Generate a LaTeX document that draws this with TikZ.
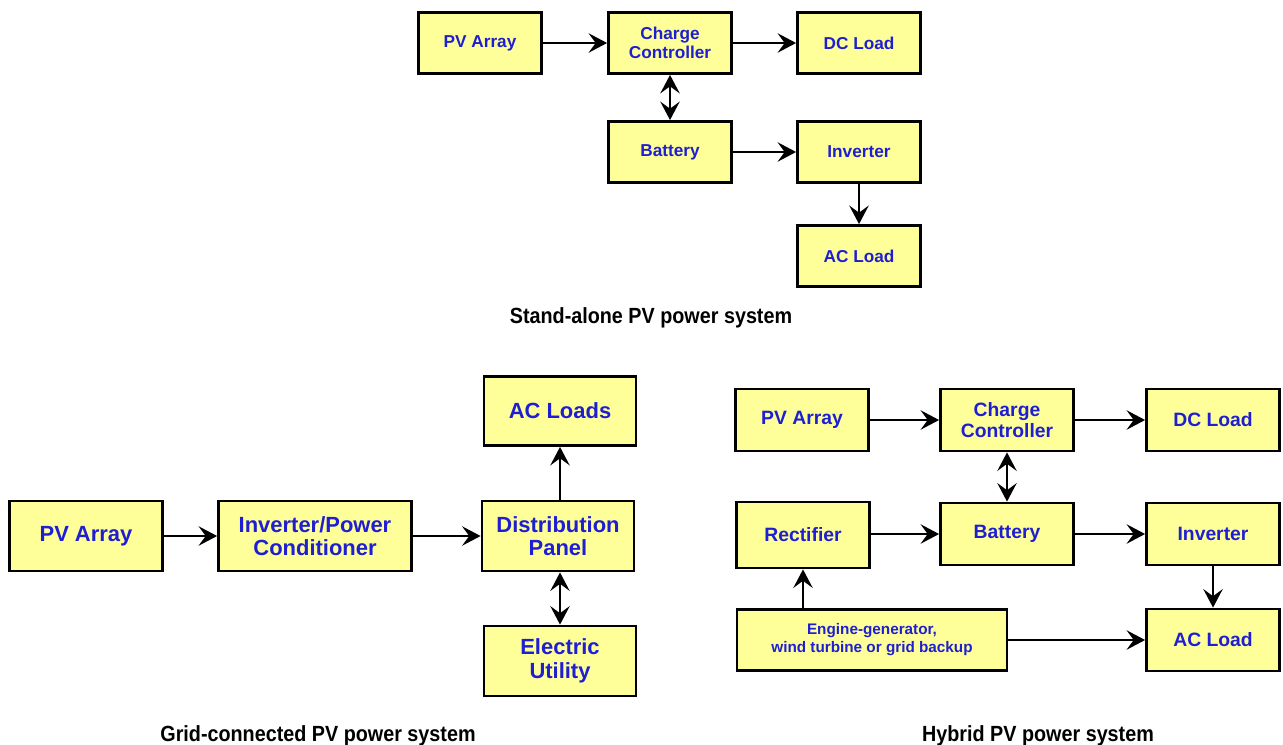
\documentclass[tikz,border=0pt]{standalone}
\usepackage{fontspec}
\setmainfont{Liberation Sans}
\newfontfamily\capfont[FakeStretch=0.9]{Liberation Sans}
\usetikzlibrary{arrows.meta,positioning}

\definecolor{boxfill}{RGB}{255,255,153}
\definecolor{boxtext}{RGB}{30,30,210}

\tikzset{
    >={Stealth[length=10.5pt, width=11pt, inset=4pt]},
    blk/.style={draw, line width=1.6pt, fill=boxfill, text=boxtext, align=center, inner sep=0pt},
    % stand-alone system
    sa/.style={blk, minimum width=2.46cm, minimum height=1.22cm, font=\bfseries\fontsize{9.8}{11}\selectfont},
    % grid-connected system
    gc/.style={blk, minimum width=3.04cm, minimum height=1.4cm, font=\bfseries\fontsize{12.5}{13.5}\selectfont},
    % hybrid system
    hy/.style={blk, minimum width=2.66cm, minimum height=1.24cm, font=\bfseries\fontsize{11}{11.5}\selectfont},
    flow/.style={->, line width=1.4pt},
    title/.style={anchor=base, font=\capfont\bfseries\fontsize{12.5}{13}\selectfont},
}

\begin{document}
\begin{tikzpicture}[x=0.02cm, y=-0.02cm]
    \useasboundingbox (0, 0) rectangle (1283, 744);

    % Stand-alone PV power system
    \node[sa] at (480, 43)(sapv){PV Array};
    \node[sa] at (670, 43)(sacc){Charge\\Controller};
    \node[sa] at (859, 43)(sadc){DC Load};
    \node[sa] at (670, 152)(sabat){Battery};
    \node[sa] at (859, 152)(sainv){Inverter};
    \node[sa] at (859, 256)(saac){AC Load};
    \node[title] at (651, 323)(satitle){Stand-alone PV power system};

    \path[flow]
        (sapv)edge(sacc)
        (sacc)edge(sadc)
        (sacc)edge[<->](sabat)
        (sabat)edge(sainv)
        (sainv)edge(saac)
        ;

    % Grid-connected PV power system
    \node[gc, minimum width=3.06cm] at (86, 536)(gcpv){PV Array};
    \node[gc, minimum width=3.86cm] at (315, 536)(gcinv){Inverter/Power\\Conditioner};
    \node[gc] at (558, 536)(gcdist){Distribution\\Panel};
    \node[gc, minimum height=1.38cm] at (560, 411)(gcac){AC Loads};
    \node[gc] at (560, 661)(gcutil){Electric\\Utility};
    \node[title] at (318, 741)(gctitle){Grid-connected PV power system};

    \path[flow]
        (gcpv)edge(gcinv)
        (gcinv)edge(gcdist)
        (gcdist.north -| gcac)edge(gcac)
        (gcdist.south -| gcutil)edge[<->](gcutil)
        ;

    % Hybrid PV power system
    \node[hy] at (802, 420)(hypv){PV Array};
    \node[hy] at (1007, 420)(hycc){Charge\\Controller};
    \node[hy] at (1213, 420)(hydc){DC Load};
    \node[hy, minimum height=1.32cm] at (803, 535)(hyrect){Rectifier};
    \node[hy] at (1007, 534)(hybat){Battery};
    \node[hy] at (1213, 534)(hyinv){Inverter};
    \node[hy, minimum width=5.4cm, minimum height=1.22cm, font=\bfseries\fontsize{8.7}{10.2}\selectfont] at (872, 640)(hygen){Engine-generator,\\wind turbine or grid backup};
    \node[hy] at (1213, 640)(hyac){AC Load};
    \node[title] at (1038, 741)(hytitle){Hybrid PV power system};

    \path[flow]
        (hypv)edge(hycc)
        (hycc)edge(hydc)
        (hycc)edge[<->](hybat)
        (hyrect.east |- hybat)edge(hybat)
        (hybat)edge(hyinv)
        (hyinv)edge(hyac)
        (hygen.north -| hyrect)edge(hyrect)
        (hygen)edge(hyac)
        ;
\end{tikzpicture}
\end{document}
